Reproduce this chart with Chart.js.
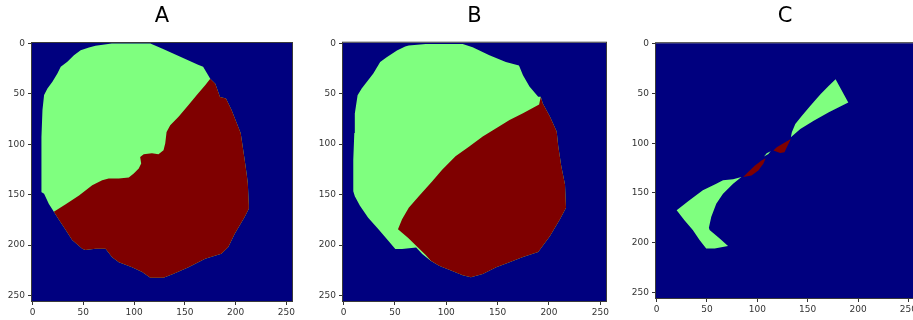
<!DOCTYPE html>
<html>
<head>
<meta charset="utf-8">
<script src="https://cdn.jsdelivr.net/npm/chart.js@4.4.1/dist/chart.umd.min.js"></script>
<style>
  html, body { margin: 0; padding: 0; background: #ffffff; width: 913px; height: 320px; overflow: hidden; position: relative; }
  canvas { position: absolute; top: 0; }
</style>
</head>
<body>
<canvas id="cA" width="312" height="320" style="left:0px"></canvas>
<canvas id="cB" width="315" height="320" style="left:311px"></canvas>
<canvas id="cC" width="310" height="320" style="left:624px"></canvas>
<script>
// ---------- data (image row/column coordinates of the mask regions) ----------
const titles = ['A', 'B', 'C'];
const tickValues = [0, 50, 100, 150, 200, 250];
const imageMin = -0.5;
const imageMax = 255.5;

// Panel A: full mask outline (class 1 + class 2) and class 2 region
const A_outline = [[55.6,4],[62,2.3],[78,0],[116,0],[127.5,5],[145,13],[163,21],[168,23],[175,35],[180,40],[184.6,53],[190.5,54.6],[196,66],[202.6,82.8],[205,89],[208.5,112.6],[210.8,129],[212,139],[213,160.6],[213,164],[209,172],[199,189],[192.8,202],[186,208.6],[170,213.6],[153.6,222],[139,228.5],[129,232.5],[116,232.5],[108,226.8],[98,222],[85,217],[78.4,212],[71.9,203.6],[62,203.6],[52,205],[49,203.6],[39,195],[32.7,185],[26,175],[21,167],[16,159],[11.4,149],[9,147.7],[8.8,129],[8.8,92.7],[9.8,66],[11.4,51],[14.7,44.7],[19.6,38],[24.5,29.8],[27.8,23],[34.3,18],[40.8,11.6],[47.4,6.6]];
const A_red = [[21,167],[32.7,159.6],[45.8,150.7],[58.8,140.7],[68.6,135.8],[75,134],[85,134],[94.8,133],[99.7,129],[104.6,124],[107,119],[106,112.6],[109.5,110],[117.6,109],[124,110],[129,106],[130.7,99],[132,87.7],[135.6,81],[143.8,72.8],[153.6,61],[163,49.7],[170,41.4],[175,35],[180,40],[184.6,53],[190.5,54.6],[196,66],[202.6,82.8],[205,89],[208.5,112.6],[210.8,129],[212,139],[213,160.6],[213,164],[209,172],[199,189],[192.8,202],[186,208.6],[170,213.6],[153.6,222],[139,228.5],[129,232.5],[116,232.5],[108,226.8],[98,222],[85,217],[78.4,212],[71.9,203.6],[62,203.6],[52,205],[49,203.6],[39,195],[32.7,185],[26,175]];

// Panel B
const B_outline = [[60,3.3],[63.5,2.3],[80,0.7],[116,0.7],[125.7,3.9],[142,12],[158,18.7],[170.8,22],[174.7,31.8],[181,43],[189.5,53],[192,53],[194,59.7],[201,72.8],[207.5,87.6],[209,102],[212,122],[215.6,140],[216.6,163],[210.7,174.5],[201,191],[189.5,207],[174.7,212],[161.6,217],[148.6,222],[135.5,228.7],[124,232],[116,230],[104,225],[93,220.5],[84.8,215.5],[76.6,209],[70.7,202.4],[57,204],[50.4,204],[43.8,196],[34,184.4],[24,173],[16,161],[11,151.6],[9.5,146.7],[9.5,115.5],[10.5,89],[11,69.6],[13.7,51.5],[17.7,45],[22.6,38.4],[29,30],[35.7,18.7],[42,13.8],[52,7.2]];
const B_red = [[53,184.4],[57,174.5],[63.5,163],[73.3,151.6],[86.4,136.8],[96,125.3],[109,112],[122.4,102.4],[135.5,92.5],[148.6,84.3],[161.6,76],[174.7,69.5],[190.4,60.7],[192,53],[194,59.7],[201,72.8],[207.5,87.6],[209,102],[212,122],[215.6,140],[216.6,163],[210.7,174.5],[201,191],[189.5,207],[174.7,212],[161.6,217],[148.6,222],[135.5,228.7],[124,232],[116,230],[104,225],[93,220.5],[85,215.5],[80,210],[72,202],[63,193]];

// Panel C
const C_greenUpper = [[177.7,35.7],[190.3,59],[171,69],[156,77.3],[142.7,85.7],[133.3,94],[134.3,89],[137.7,80.7],[144.3,72.3],[152.7,62.3],[162.7,50.7],[171,42.3]];
const C_greenSmall = [[106.7,113.3],[109.3,110],[113.3,108],[111,110.7]];
const C_greenLower = [[84.3,134],[76,136.3],[66,137.3],[59.3,140.7],[46,147.3],[32.7,157.3],[20,167.3],[27.7,177.3],[36,187.3],[42.7,197.3],[49.3,205.7],[57.7,205.7],[71,203.3],[62.7,195.7],[52.7,187.3],[52,185],[54.3,174],[59.3,160.7],[66,150.7],[76,140.7]];
const C_redUpper = [[133.3,95.7],[129.3,104],[127,109],[122.7,109.7],[116,107.3],[119.3,104],[126,100]];
const C_redLower = [[108.3,115],[106,120.7],[101,127.3],[94.3,132.3],[86,134],[91,129],[97.7,122.3],[104.3,117.3]];

// ---------- styling ----------
const BG = '#00007f';
const GREEN = '#7fff7f';
const RED = '#7f0000';

Chart.defaults.font.family = "'DejaVu Sans', sans-serif";
Chart.defaults.color = '#333333';

function region(points, color, order) {
  return {
    data: points.map(p => ({ x: p[0], y: p[1] })),
    showLine: true,
    fill: 'shape',
    backgroundColor: color,
    borderColor: color,
    borderWidth: 0,
    pointRadius: 0,
    tension: 0,
    order: order
  };
}

const framePlugin = {
  id: 'imageFrame',
  beforeDatasetsDraw(chart) {
    const a = chart.chartArea, ctx = chart.ctx;
    ctx.save();
    ctx.fillStyle = BG;
    ctx.fillRect(a.left, a.top, a.right - a.left, a.bottom - a.top);
    ctx.restore();
  },
  afterDraw(chart) {
    const a = chart.chartArea, ctx = chart.ctx;
    ctx.save();
    ctx.strokeStyle = '#3a3a3a';
    ctx.lineWidth = 1;
    ctx.strokeRect(a.left - 0.5, a.top - 0.5, a.right - a.left + 1, a.bottom - a.top + 1);
    ctx.restore();
  }
};

function makeChart(id, title, datasets, geo) {
  const setTicks = s => { s.ticks = tickValues.map(v => ({ value: v })); };
  return new Chart(document.getElementById(id), {
    type: 'scatter',
    data: { datasets: datasets },
    options: {
      responsive: false,
      animation: false,
      events: [],
      layout: { padding: { left: 0, right: 20, top: 0, bottom: 0 } },
      plugins: {
        legend: { display: false },
        tooltip: { enabled: false },
        title: {
          display: true,
          text: title,
          fullSize: false,
          color: '#000000',
          font: { size: 21, weight: 'normal', family: "'DejaVu Sans', sans-serif" },
          padding: { top: geo.titleTop, bottom: geo.titleBottom }
        }
      },
      scales: {
        x: {
          type: 'linear',
          min: imageMin, max: imageMax,
          afterBuildTicks: setTicks,
          afterFit: s => { s.height = geo.xHeight; },
          grid: { drawOnChartArea: false, drawTicks: true, tickLength: 4, tickColor: '#333333', tickWidth: 1 },
          border: { display: false },
          ticks: { font: { size: 9 }, padding: 2, maxRotation: 0, autoSkip: false, color: '#333333' }
        },
        y: {
          type: 'linear',
          reverse: true,
          min: imageMin, max: imageMax,
          afterBuildTicks: setTicks,
          afterFit: s => { s.width = geo.yWidth; },
          grid: { drawOnChartArea: false, drawTicks: true, tickLength: 4, tickColor: '#333333', tickWidth: 1 },
          border: { display: false },
          ticks: { font: { size: 9 }, padding: 3, autoSkip: false, color: '#333333' }
        }
      }
    },
    plugins: [framePlugin]
  });
}

makeChart('cA', titles[0], [region(A_red, RED, 0), region(A_outline, GREEN, 1)],
  { titleTop: 4, titleBottom: 13.8, xHeight: 19, yWidth: 32 });
makeChart('cB', titles[1], [region(B_red, RED, 0), region(B_outline, GREEN, 1)],
  { titleTop: 4, titleBottom: 13.5, xHeight: 19, yWidth: 32 });
makeChart('cC', titles[2], [region(C_redUpper, RED, 0), region(C_redLower, RED, 0),
  region(C_greenUpper, GREEN, 1), region(C_greenSmall, GREEN, 1), region(C_greenLower, GREEN, 1)],
  { titleTop: 4, titleBottom: 14, xHeight: 22, yWidth: 32 });
</script>
</body>
</html>
